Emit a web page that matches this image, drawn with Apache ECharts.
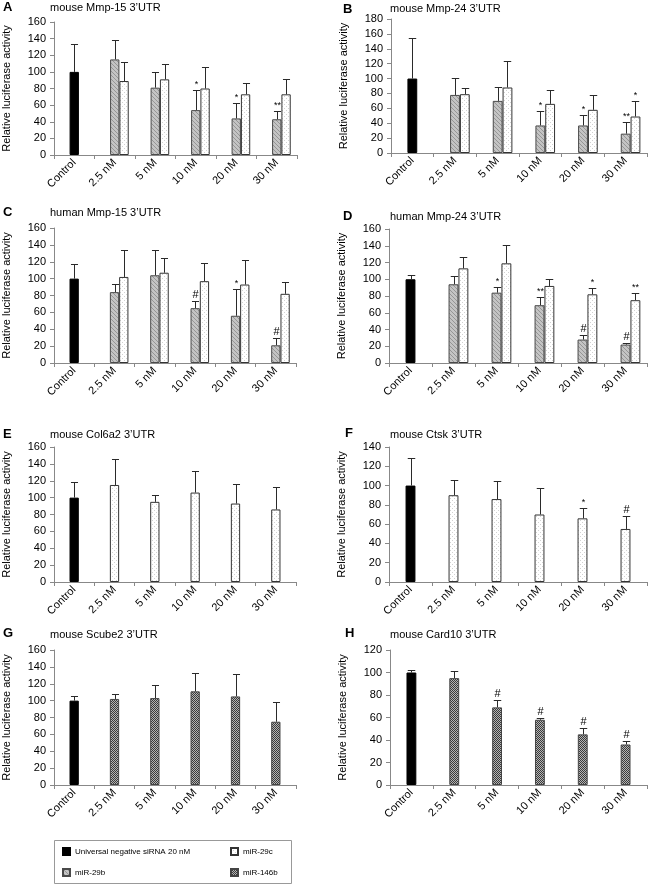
<!DOCTYPE html>
<html><head><meta charset="utf-8">
<script src="https://cdn.jsdelivr.net/npm/echarts@6/dist/echarts.min.js"></script>
<style>html,body{margin:0;padding:0;background:#fff}#c{width:650px;height:884px}</style>
</head><body><div id="c"></div>
<script>
// ---------- DATA ----------
const categories = ['Control', '2.5 nM', '5 nM', '10 nM', '20 nM', '30 nM'];
const yTitle = 'Relative luciferase activity';

// A: mouse Mmp-15
const A_control = 100, A_controlSd = 33;
const A_miR29b = [115, 81, 54, 44, 43], A_miR29bSd = [23, 19, 24, 19, 10], A_miR29bSig = ['', '', '*', '*', '**'];
const A_miR29c = [89, 91, 80, 73, 73], A_miR29cSd = [23, 18, 26, 14, 19], A_miR29cSig = ['', '', '', '', ''];
// B: mouse Mmp-24
const B_control = 100, B_controlSd = 54;
const B_miR29b = [78, 70, 37, 37, 26], B_miR29bSd = [23, 18, 20, 14, 15], B_miR29bSig = ['', '', '*', '*', '**'];
const B_miR29c = [79, 88, 66, 58, 49], B_miR29cSd = [8, 36, 19, 20, 21], B_miR29cSig = ['', '', '', '', '*'];
// C: human Mmp-15
const C_control = 100, C_controlSd = 17;
const C_miR29b = [84, 104, 65, 56, 21], C_miR29bSd = [10, 30, 8, 32, 9], C_miR29bSig = ['', '', '#', '*', '#'];
const C_miR29c = [102, 107, 97, 93, 82], C_miR29cSd = [32, 18, 22, 29, 14], C_miR29cSig = ['', '', '', '', ''];
// D: human Mmp-24
const D_control = 100, D_controlSd = 5;
const D_miR29b = [94, 84, 69, 28, 22], D_miR29bSd = [10, 7, 10, 6, 1.5], D_miR29bSig = ['', '*', '**', '#', '#'];
const D_miR29c = [113, 119, 92, 82, 75], D_miR29cSd = [14, 22, 8, 7, 8], D_miR29cSig = ['', '', '', '*', '**'];
// E: mouse Col6a2
const E_control = 100, E_controlSd = 18;
const E_miR29c = [115, 95, 106, 93, 86], E_miR29cSd = [31, 8, 26, 23, 27], E_miR29cSig = ['', '', '', '', ''];
// F: mouse Ctsk
const F_control = 100, F_controlSd = 29;
const F_miR29c = [90, 86, 70, 66, 55], F_miR29cSd = [16, 19, 27, 11, 13], F_miR29cSig = ['', '', '', '*', '#'];
// G: mouse Scube2
const G_control = 100, G_controlSd = 6;
const G_miR146b = [102, 103, 111, 105, 75], G_miR146bSd = [6, 16, 22, 27, 23], G_miR146bSig = ['', '', '', '', ''];
// H: mouse Card10
const H_control = 100, H_controlSd = 2;
const H_miR146b = [95, 69, 58, 45, 36], H_miR146bSd = [6, 7, 2, 6, 3], H_miR146bSig = ['', '#', '#', '#', '#'];

// ---------- PATTERNS ----------
function tile(w, h, draw) { const c = document.createElement('canvas'); c.width = w; c.height = h; const g = c.getContext('2d'); draw(g); return { image: c, repeat: 'repeat' }; }
const patHatch = tile(4, 4, g => { g.fillStyle = '#c4c4c4'; g.fillRect(0, 0, 4, 4); g.fillStyle = '#959595'; for (let i = 0; i < 4; i++) g.fillRect(i, i, 1, 1); });
const patDots = tile(4, 4, g => { g.fillStyle = '#ffffff'; g.fillRect(0, 0, 4, 4); g.fillStyle = '#d2d2d2'; g.fillRect(0, 0, 1, 1); g.fillRect(2, 2, 1, 1); });
const patCheck = tile(2, 2, g => { g.fillStyle = '#b5b5b5'; g.fillRect(0, 0, 2, 2); g.fillStyle = '#3a3a3a'; g.fillRect(0, 0, 1, 1); g.fillRect(1, 1, 1, 1); });

const NAME_CTRL = 'Universal negative siRNA 20 nM';
const styles = {
  ctrl: { color: '#000', borderColor: '#000', borderWidth: 1 },
  b: { color: patHatch, borderColor: '#4a4a4a', borderWidth: 1 },
  c: { color: patDots, borderColor: '#333', borderWidth: 1 },
  d: { color: patCheck, borderColor: '#444', borderWidth: 1 }
};
const FONT = 'Liberation Sans';
const BW = 0.23;

// ---------- LAYOUT ----------
const panels = [
  { L: 'A', t: 'mouse Mmp-15 3\u2019UTR', max: 160, grid: { left: 50, top: 22, width: 247, height: 133 }, lx: 3, ly: 1, tx: 50, ty: 2,
    ctrl: [A_control, A_controlSd], s: [['b', 'miR-29b', A_miR29b, A_miR29bSd, A_miR29bSig], ['c', 'miR-29c', A_miR29c, A_miR29cSd, A_miR29cSig]] },
  { L: 'B', t: 'mouse Mmp-24 3\u2019UTR', max: 180, grid: { left: 391, top: 19, width: 256, height: 134 }, lx: 343, ly: 3, tx: 390, ty: 3,
    ctrl: [B_control, B_controlSd], s: [['b', 'miR-29b', B_miR29b, B_miR29bSd, B_miR29bSig], ['c', 'miR-29c', B_miR29c, B_miR29cSd, B_miR29cSig]] },
  { L: 'C', t: 'human Mmp-15 3\u2019UTR', max: 160, grid: { left: 50, top: 228, width: 246, height: 135 }, lx: 3, ly: 206, tx: 50, ty: 207,
    ctrl: [C_control, C_controlSd], s: [['b', 'miR-29b', C_miR29b, C_miR29bSd, C_miR29bSig], ['c', 'miR-29c', C_miR29c, C_miR29cSd, C_miR29cSig]] },
  { L: 'D', t: 'human Mmp-24 3\u2019UTR', max: 160, grid: { left: 389, top: 229, width: 258, height: 134 }, lx: 343, ly: 210, tx: 390, ty: 211,
    ctrl: [D_control, D_controlSd], s: [['b', 'miR-29b', D_miR29b, D_miR29bSd, D_miR29bSig], ['c', 'miR-29c', D_miR29c, D_miR29cSd, D_miR29cSig]] },
  { L: 'E', t: 'mouse Col6a2 3\u2019UTR', max: 160, grid: { left: 50, top: 447, width: 246, height: 135 }, lx: 3, ly: 428, tx: 50, ty: 429,
    ctrl: [E_control, E_controlSd], s: [['c', 'miR-29c', E_miR29c, E_miR29cSd, E_miR29cSig]] },
  { L: 'F', t: 'mouse Ctsk 3\u2019UTR', max: 140, grid: { left: 389, top: 447, width: 258, height: 135 }, lx: 345, ly: 427, tx: 390, ty: 429,
    ctrl: [F_control, F_controlSd], s: [['c', 'miR-29c', F_miR29c, F_miR29cSd, F_miR29cSig]] },
  { L: 'G', t: 'mouse Scube2 3\u2019UTR', max: 160, grid: { left: 50, top: 650, width: 246, height: 135 }, lx: 3, ly: 627, tx: 50, ty: 629,
    ctrl: [G_control, G_controlSd], s: [['d', 'miR-146b', G_miR146b, G_miR146bSd, G_miR146bSig]] },
  { L: 'H', t: 'mouse Card10 3\u2019UTR', max: 120, grid: { left: 390, top: 650, width: 257, height: 135 }, lx: 345, ly: 627, tx: 390, ty: 629,
    ctrl: [H_control, H_controlSd], s: [['d', 'miR-146b', H_miR146b, H_miR146bSd, H_miR146bSig]] }
];

function errRender(offset, sig) {
  return function (params, api) {
    const x = api.value(0), v = api.value(1), sd = api.value(2);
    const bw = api.size([1, 0])[0] * BW;
    const p0 = api.coord([x, v]), p1 = api.coord([x, v + sd]);
    const cx = Math.round(p0[0] + offset * bw) + 0.5;
    const ty = Math.round(p1[1]) + 0.5;
    const cap = bw * 0.38;
    const st = { stroke: '#2a2a2a', lineWidth: 1 };
    const ch = [
      { type: 'line', shape: { x1: cx, y1: p0[1], x2: cx, y2: ty }, style: st },
      { type: 'line', shape: { x1: cx - cap, y1: ty, x2: cx + cap, y2: ty }, style: st }
    ];
    const s = sig ? sig[params.dataIndex] : '';
    if (s) ch.push({ type: 'text', style: { text: s, x: cx, y: ty - 1, align: 'center', verticalAlign: 'bottom', fontSize: s.indexOf('#') >= 0 ? 11 : 9, fontFamily: FONT, fill: '#000' } });
    return { type: 'group', children: ch };
  };
}

const option = { animation: false, backgroundColor: '#fff', textStyle: { fontFamily: FONT }, title: [], grid: [], xAxis: [], yAxis: [], series: [] };
const blanks = n => Array(n).fill('-');

panels.forEach((p, i) => {
  option.grid.push(p.grid);
  option.title.push({ text: p.L, left: p.lx, top: p.ly, padding: 0, textStyle: { fontSize: 13, fontWeight: 'bold', fontFamily: FONT, color: '#000' } });
  option.title.push({ text: p.t, left: p.tx, top: p.ty, padding: 0, textStyle: { fontSize: 11, fontWeight: 'normal', fontFamily: FONT, color: '#000' } });
  option.xAxis.push({ gridIndex: i, type: 'category', data: categories,
    axisLine: { lineStyle: { color: '#888' } }, axisTick: { show: true, length: 4, lineStyle: { color: '#888' } },
    axisLabel: { rotate: 45, fontSize: 11, color: '#000', margin: 6, fontFamily: FONT, interval: 0 } });
  option.yAxis.push({ gridIndex: i, type: 'value', min: 0, max: p.max, interval: 20, name: yTitle, nameLocation: 'middle', nameGap: 42,
    nameTextStyle: { fontSize: 11, color: '#000', fontFamily: FONT },
    axisLine: { show: true, lineStyle: { color: '#888' } }, axisTick: { show: true, length: 4, lineStyle: { color: '#888' } },
    splitLine: { show: false }, axisLabel: { fontSize: 11, color: '#000', margin: 8, fontFamily: FONT } });
  const pair = p.s.length === 2;
  const common = { type: 'bar', xAxisIndex: i, yAxisIndex: i, barWidth: (BW * 100) + '%', barGap: '0%', silent: true };
  if (pair) option.series.push(Object.assign({ name: 'pad' + i, data: blanks(6) }, common));
  option.series.push(Object.assign({ name: NAME_CTRL, stack: 'm' + i, itemStyle: styles.ctrl, data: [p.ctrl[0]].concat(blanks(5)) }, common));
  p.s.forEach((s, k) => {
    const ser = Object.assign({ name: s[1], itemStyle: styles[s[0]], data: ['-'].concat(s[2]) }, common);
    if (k === 0) ser.stack = 'm' + i;
    option.series.push(ser);
  });
  // error bars
  option.series.push({ type: 'custom', xAxisIndex: i, yAxisIndex: i, z: 5, silent: true, renderItem: errRender(0, null), data: [[0, p.ctrl[0], p.ctrl[1]]] });
  p.s.forEach((s, k) => {
    option.series.push({ type: 'custom', xAxisIndex: i, yAxisIndex: i, z: 5, silent: true, renderItem: errRender(pair && k === 1 ? 1 : 0, s[4]),
      data: s[2].map((v, j) => [j + 1, v, s[3][j]]) });
  });
});

option.legend = [
  { data: [NAME_CTRL, 'miR-29b'], orient: 'vertical', left: 62, top: 847, itemWidth: 7, itemHeight: 7, itemGap: 12, icon: 'rect', selectedMode: false,
    textStyle: { fontSize: 8, color: '#000', fontFamily: FONT }, padding: 0 },
  { data: ['miR-29c', 'miR-146b'], orient: 'vertical', left: 230, top: 847, itemWidth: 7, itemHeight: 7, itemGap: 12, icon: 'rect', selectedMode: false,
    textStyle: { fontSize: 8, color: '#000', fontFamily: FONT }, padding: 0 }
];
option.graphic = [{ type: 'rect', left: 52, top: 838, shape: { width: 237, height: 43 }, style: { fill: 'none', stroke: '#999', lineWidth: 1 }, silent: true }];

const chart = echarts.init(document.getElementById('c'), null, { renderer: 'canvas' });
chart.setOption(option);
</script>
</body></html>
